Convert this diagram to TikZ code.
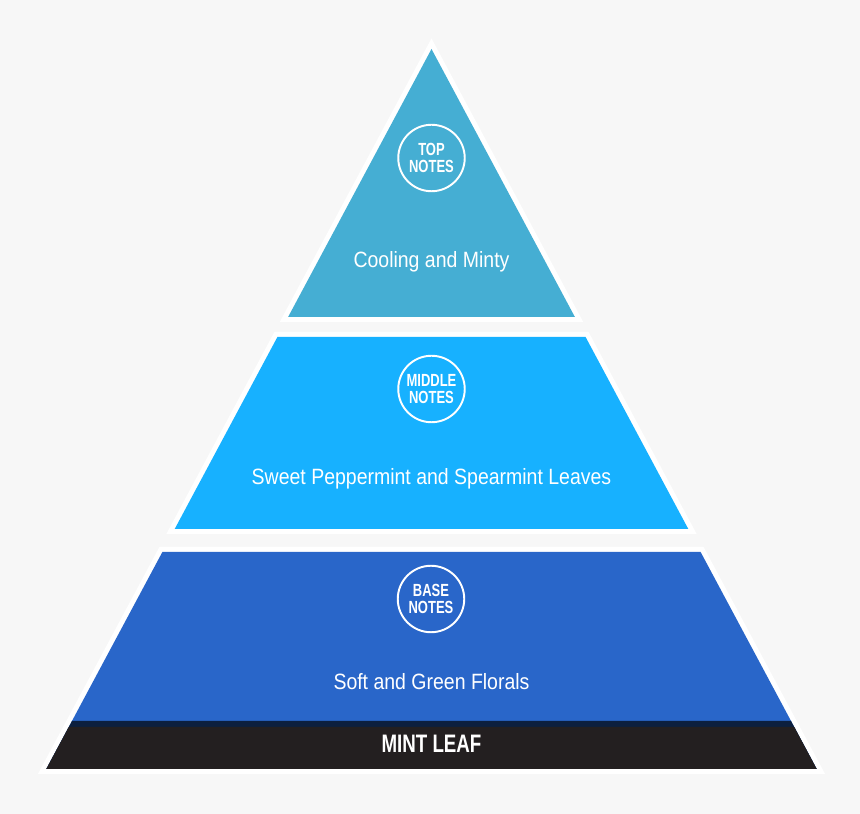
\documentclass[tikz,border=0pt]{standalone}
\usepackage{fontspec}
\setmainfont{Liberation Sans}[FakeStretch=0.88]
\newfontfamily\condBold{Liberation Sans}[FakeStretch=0.74]
\usepackage{tikz}
\usepackage{xcolor}
\definecolor{pageGray}{HTML}{F7F7F7}
\definecolor{topFill}{HTML}{45AED3}
\definecolor{middleFill}{HTML}{17B1FF}
\definecolor{baseFill}{HTML}{2966C9}
\definecolor{stripNavy}{HTML}{0C1F3E}
\definecolor{leafDark}{HTML}{231F20}
\tikzset{
    LayerRim/.style={fill=white, draw=white, line width=0.2cm, line join=miter},
    LayerText/.style={text=white, anchor=base, font=\fontsize{12.6}{14}\selectfont},
    NoteCircle/.style={circle, draw=white, line width=1.1pt, minimum size=1.33cm, inner sep=0pt,
        text=white, align=center, font=\condBold\bfseries\fontsize{10}{9.8}\selectfont},
    LeafText/.style={text=white, anchor=base, font=\condBold\bfseries\fontsize{14.4}{16}\selectfont}
}

\begin{document}
\begin{tikzpicture}[x=0.02cm, y=-0.02cm]
    \fill[pageGray] (0,0) rectangle (860,814);
    \useasboundingbox (0,0) rectangle (860,814);

    % top of the pyramid
    \filldraw[LayerRim] (431.5,49) -- (574.9,317) -- (288.1,317) -- cycle;
    \fill[topFill] (431.5,49) -- (574.9,317) -- (288.1,317) -- cycle;

    % the two lower layers share the same slope
    \foreach \yT/\yB/\layerCol in {337/529/middleFill, 552/769/baseFill} {
        \pgfmathsetmacro{\wT}{0.535*(\yT-49)}
        \pgfmathsetmacro{\wB}{0.535*(\yB-49)}
        \filldraw[LayerRim] ({431.5-\wT},\yT) -- ({431.5+\wT},\yT) -- ({431.5+\wB},\yB) -- ({431.5-\wB},\yB) -- cycle;
        \fill[\layerCol] ({431.5-\wT},\yT) -- ({431.5+\wT},\yT) -- ({431.5+\wB},\yB) -- ({431.5-\wB},\yB) -- cycle;
    }

    % dark band at the foot
    \fill[stripNavy] (72,721) -- (791,721) -- (816.7,769) -- (46.3,769) -- cycle;
    \fill[leafDark] (68.8,727) -- (794.2,727) -- (816.7,769) -- (46.3,769) -- cycle;

    \node[NoteCircle] (topNotes) at (431.5,158) {TOP\\NOTES};
    \node[LayerText] (topText) at (431.5,268) {Cooling and Minty};

    \node[NoteCircle] (middleNotes) at (431.5,389) {MIDDLE\\NOTES};
    \node[LayerText] (middleText) at (431.5,485) {Sweet Peppermint and Spearmint Leaves};

    \node[NoteCircle] (baseNotes) at (431,599) {BASE\\NOTES};
    \node[LayerText] (baseText) at (431.5,690) {Soft and Green Florals};

    \node[LeafText] (leafText) at (431.5,752) {MINT LEAF};
\end{tikzpicture}
\end{document}
